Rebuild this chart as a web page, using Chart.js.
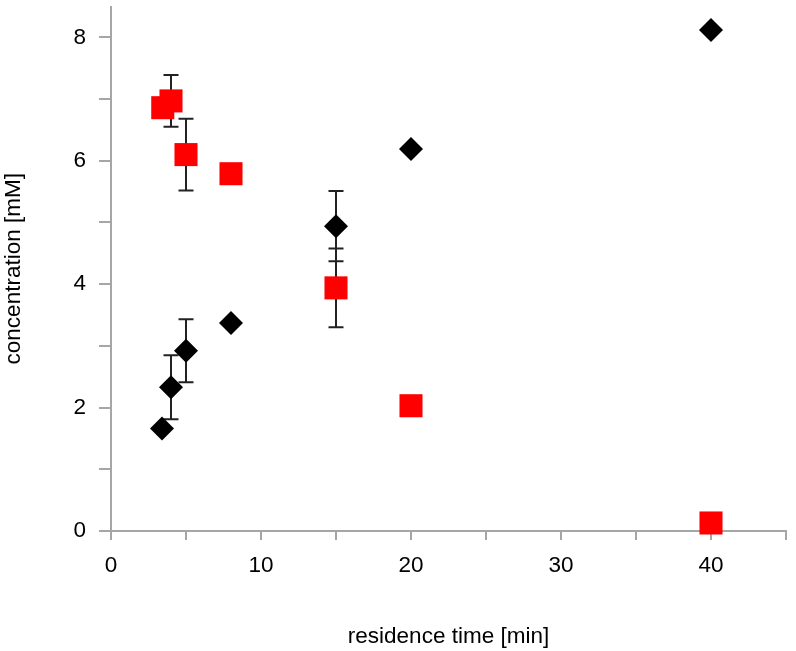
<!DOCTYPE html>
<html>
<head>
<meta charset="utf-8">
<script src="https://cdn.jsdelivr.net/npm/chart.js@4.4.1/dist/chart.umd.min.js"></script>
<style>
  body { margin: 0; background: #fff; }
  #wrap { width: 796px; height: 651px; }
</style>
</head>
<body>
<div id="wrap"><canvas id="myChart" width="796" height="651"></canvas></div>
<script>
// residence time [min] and concentration [mM]
const blackX = [3.4, 4, 5, 8, 15, 20, 40];
const blackY = [1.66, 2.33, 2.92, 3.37, 4.94, 6.19, 8.12];
const blackErr = [0, 0.52, 0.51, 0, 0.57, 0, 0];

const redX = [3.45, 4, 5, 8, 15, 20, 40];
const redY = [6.86, 6.97, 6.1, 5.79, 3.94, 2.03, 0.13];
const redErr = [0, 0.42, 0.58, 0, 0.64, 0, 0];

const xLabels = [0, 10, 20, 30, 40];
const yLabels = [0, 2, 4, 6, 8];

const axisGrey = '#a6a6a6';
const font = 'Arial, "Liberation Sans", sans-serif';

// error bars drawn under the markers
const errorBars = {
  id: 'errorBars',
  beforeDatasetsDraw(chart) {
    const ctx = chart.ctx;
    const xs = chart.scales.x, ys = chart.scales.y;
    ctx.save();
    ctx.strokeStyle = '#222';
    ctx.lineWidth = 2;
    chart.data.datasets.forEach(ds => {
      ds.data.forEach((p, i) => {
        const e = ds.errors[i];
        if (!e) return;
        const px = xs.getPixelForValue(p.x);
        const top = ys.getPixelForValue(p.y + e);
        const bot = ys.getPixelForValue(p.y - e);
        ctx.beginPath();
        ctx.moveTo(px, top); ctx.lineTo(px, bot);
        ctx.moveTo(px - 7.5, top); ctx.lineTo(px + 7.5, top);
        ctx.moveTo(px - 7.5, bot); ctx.lineTo(px + 7.5, bot);
        ctx.stroke();
      });
    });
    ctx.restore();
  }
};

new Chart(document.getElementById('myChart'), {
  type: 'scatter',
  data: {
    datasets: [{
      label: 'black',
      data: blackX.map((x, i) => ({ x: x, y: blackY[i] })),
      errors: blackErr,
      pointStyle: 'rectRot',
      pointRadius: 12,
      backgroundColor: '#000',
      borderWidth: 0,
      clip: false
    }, {
      label: 'red',
      data: redX.map((x, i) => ({ x: x, y: redY[i] })),
      errors: redErr,
      pointStyle: 'rect',
      pointRadius: 16.3,
      backgroundColor: '#ff0000',
      borderWidth: 0,
      clip: false
    }]
  },
  options: {
    responsive: false,
    animation: false,
    events: [],
    layout: { autoPadding: false, padding: { top: 6.5, right: 10, left: 0, bottom: 0 } },
    plugins: { legend: { display: false }, tooltip: { enabled: false } },
    scales: {
      x: {
        type: 'linear',
        min: 0,
        max: 45,
        afterFit(s) { s.height = 120; s.paddingLeft = 0; s.paddingRight = 0; },
        border: { color: axisGrey, width: 2 },
        grid: { drawOnChartArea: false, color: axisGrey, lineWidth: 2, tickLength: 9 },
        ticks: {
          stepSize: 5,
          padding: 12,
          color: '#000',
          font: { family: font, size: 22.5 },
          maxRotation: 0,
          callback: v => xLabels.includes(v) ? String(v) : ''
        },
        title: {
          display: true,
          text: 'residence time [min]',
          color: '#000',
          font: { family: font, size: 22.5 },
          padding: { top: 0, bottom: 1 }
        }
      },
      y: {
        type: 'linear',
        min: 0,
        max: 8.5,
        afterFit(s) { s.width = 111; s.paddingTop = 0; s.paddingBottom = 0; },
        border: { color: axisGrey, width: 2 },
        grid: { drawOnChartArea: false, color: axisGrey, lineWidth: 2, tickLength: 12 },
        ticks: {
          stepSize: 1,
          includeBounds: false,
          padding: 13,
          color: '#000',
          font: { family: font, size: 22.5 },
          callback: v => yLabels.includes(v) ? String(v) : ''
        },
        title: {
          display: true,
          text: 'concentration [mM]',
          color: '#000',
          font: { family: font, size: 22.5 },
          padding: { top: 0, bottom: 0 }
        }
      }
    }
  },
  plugins: [errorBars]
});
</script>
</body>
</html>
